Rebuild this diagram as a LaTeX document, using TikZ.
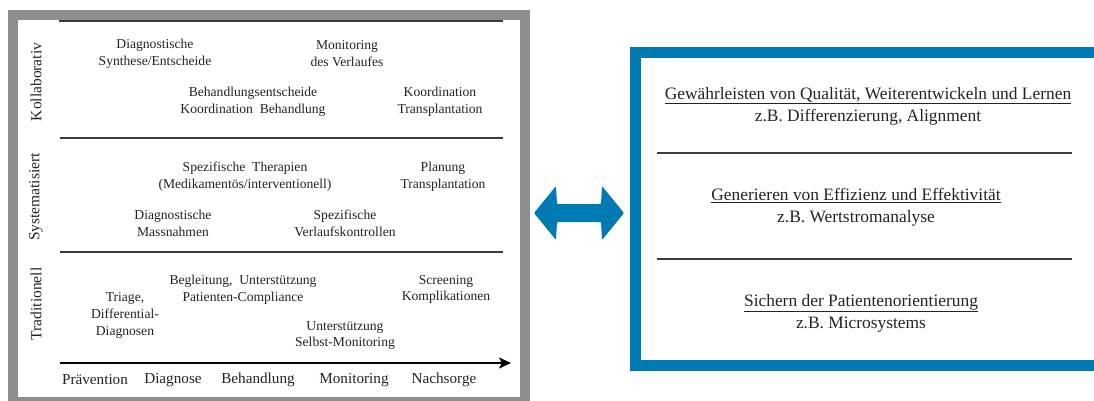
\documentclass[tikz,border=0pt]{standalone}
\usepackage{fontspec}
\setmainfont{Liberation Serif}
\usepackage{xcolor}
\usepackage{tikz}
\usetikzlibrary{arrows.meta}

\definecolor{framegray}{RGB}{140,142,144}
\definecolor{linegray}{RGB}{60,60,60}
\definecolor{txtgray}{RGB}{35,35,35}
\definecolor{boxblue}{RGB}{0,122,178}

\tikzset{
  cell/.style={align=center, inner sep=0pt, text=txtgray, font=\fontsize{13.6}{16.8}\selectfont},
  level/.style={rotate=90, inner sep=0pt, text=txtgray, font=\fontsize{15.5}{18}\selectfont},
  stage/.style={inner sep=0pt, text=txtgray, font=\fontsize{15.2}{18}\selectfont},
  goal/.style={align=center, inner sep=0pt, text=txtgray, font=\fontsize{17.4}{22}\selectfont},
  rule/.style={draw=linegray, line width=1.6pt},
}

\begin{document}
\begin{tikzpicture}[x=1pt,y=-1pt]
            \useasboundingbox (0,0) rectangle (1094,401);

            % left panel
            \draw[framegray, line width=10pt] (12.5,15) rectangle (525,402);
            \coordinate (top0) at (59,21);
            \coordinate (top1) at (503,21);
            \coordinate (sepA0) at (60,138);
            \coordinate (sepA1) at (503,138);
            \coordinate (sepB0) at (60,252);
            \coordinate (sepB1) at (503,252);
            \coordinate (axis0) at (60,363);
            \coordinate (axis1) at (511,363);
            \draw[rule] (top0) -- (top1);
            \draw[rule] (sepA0) -- (sepA1);
            \draw[rule] (sepB0) -- (sepB1);
            \draw[black, line width=2pt, -{Stealth[length=12pt,width=11pt,inset=3pt]}] (axis0) -- (axis1);

            \node[level] (kol) at (36,82) {Kollaborativ};
            \node[level] (sys) at (36,197) {Systematisiert};
            \node[level] (tra) at (36,304) {Traditionell};

            \node[stage] (praev) at (95,380) {Prävention};
            \node[stage] (diag) at (173,380) {Diagnose};
            \node[stage] (behan) at (258,380) {Behandlung};
            \node[stage] (monit) at (354,380) {Monitoring};
            \node[stage] (nachs) at (444,380) {Nachsorge};

            \node[cell] (synth) at (155,53.5) {Diagnostische\\Synthese/Entscheide};
            \node[cell] (verl) at (347,53.5) {Monitoring\\des Verlaufes};
            \node[cell] (bentsch) at (253,102) {Behandlungsentscheide\\Koordination\ \ Behandlung};
            \node[cell] (ktrans) at (440,102) {Koordination\\Transplantation};

            \node[cell] (ther) at (245,177) {Spezifische\ \ Therapien\\(Medikamentös/interventionell)};
            \node[cell] (ptrans) at (443,177) {Planung\\Transplantation};
            \node[cell] (mass) at (173,223) {Diagnostische\\Massnahmen};
            \node[cell] (vkontr) at (345,223) {Spezifische\\Verlaufskontrollen};

            \node[cell] (begl) at (243,289.5) {Begleitung,\ \ Unterstützung\\Patienten-Compliance};
            \node[cell] (screen) at (446,289.5) {Screening\\Komplikationen};
            \node[cell] (triage) at (125,315.5) {Triage,\\Differential-\\Diagnosen};
            \node[cell] (selbst) at (345,335.5) {Unterstützung\\Selbst-Monitoring};

            % double arrow
            \fill[boxblue, rounded corners=1pt] (534,213) -- (556,186) -- (557,204) -- (601,204)
                -- (602,186) -- (624,213) -- (602,240) -- (601,222) -- (557,222) -- (556,240) -- cycle;

            % right panel
            \draw[boxblue, line width=11pt] (635,52.5) rectangle (1110,365);
            \coordinate (sepC0) at (657,153);
            \coordinate (sepC1) at (1072,153);
            \coordinate (sepD0) at (657,259);
            \coordinate (sepD1) at (1072,259);
            \draw[rule, line width=1.3pt] (sepC0) -- (sepC1);
            \draw[rule, line width=1.3pt] (sepD0) -- (sepD1);

            \node[goal] (qual) at (868,106) {\underline{Gewährleisten von Qualität, Weiterentwickeln und Lernen}\\z.B. Differenzierung, Alignment};
            \node[goal] (effiz) at (856,207) {\underline{Generieren von Effizienz und Effektivität}\\z.B. Wertstromanalyse};
            \node[goal] (patient) at (861,313) {\underline{Sichern der Patientenorientierung}\\z.B. Microsystems};
        \end{tikzpicture}
\end{document}
